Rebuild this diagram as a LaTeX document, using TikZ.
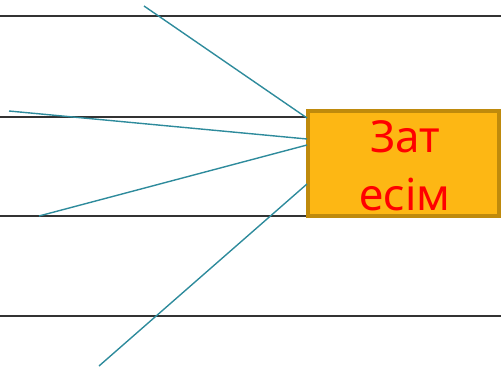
\documentclass[tikz,border=0pt]{standalone}
\usepackage{fontspec}
\newfontfamily\boxfont{Noto Sans}
\definecolor{teal1}{HTML}{2E8B9C}
\definecolor{rulegray}{HTML}{333333}
\definecolor{boxfill}{HTML}{FDB714}
\definecolor{boxedge}{HTML}{BF8A0C}
\begin{document}
\begin{tikzpicture}[x=1pt,y=-1pt,
  rule/.style={draw=rulegray,line width=1.8pt},
  ray/.style={draw=teal1,line width=1.4pt},
  wordbox/.style={draw=boxedge,fill=boxfill,line width=3.5pt,minimum width=191pt,minimum height=105pt,inner sep=0pt,
    font=\boxfont\fontsize{44}{60}\selectfont,text=red,align=center}]
\useasboundingbox (0,0) rectangle (501,369);
\coordinate (l1a) at (0,16);  \coordinate (l1b) at (501,16);
\coordinate (l2a) at (0,117); \coordinate (l2b) at (501,117);
\coordinate (l3a) at (0,216); \coordinate (l3b) at (501,216);
\coordinate (l4a) at (0,316); \coordinate (l4b) at (501,316);
\draw[rule] (l1a) -- (l1b);
\draw[rule] (l2a) -- (l2b);
\draw[rule] (l3a) -- (l3b);
\draw[rule] (l4a) -- (l4b);
\node[wordbox] (box) at (403.5,163.5) {};
\node[font=\boxfont\fontsize{44}{60}\selectfont,text=red,inner sep=0pt,anchor=base] (w1) at (405,152) {Зат};
\node[font=\boxfont\fontsize{44}{60}\selectfont,text=red,inner sep=0pt,anchor=base] (w2) at (405,210) {есім};
\coordinate (e1) at (144,6);
\coordinate (e2) at (9,111);
\coordinate (e3) at (39,216);
\coordinate (e4) at (99,366);
\coordinate (b1) at (307,118);
\coordinate (b2) at (307,139);
\coordinate (b3) at (307,145);
\coordinate (b4) at (307,184);
\draw[ray] (e1) -- (b1);
\draw[ray] (e2) -- (b2);
\draw[ray] (e3) -- (b3);
\draw[ray] (e4) -- (b4);
\end{tikzpicture}
\end{document}
